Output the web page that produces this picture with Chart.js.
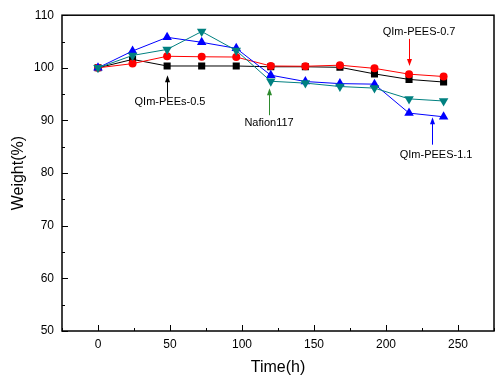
<!DOCTYPE html>
<html>
<head>
<meta charset="utf-8">
<script src="https://cdn.jsdelivr.net/npm/chart.js@4.4.1/dist/chart.umd.min.js"></script>
<style>
  html, body { margin: 0; padding: 0; background: #fff; }
  #wrap { width: 500px; height: 379px; }
</style>
</head>
<body>
<div id="wrap"><canvas id="c" width="500" height="379"></canvas></div>
<script>
// ---- data ----
const timeH = [0, 24, 48, 72, 96, 120, 144, 168, 192, 216, 240];
const qimPees05 = [100.0, 101.6, 100.35, 100.35, 100.35, 100.2, 100.2, 100.1, 98.85, 97.8, 97.3];
const qimPees07 = [100.0, 100.8, 102.2, 102.1, 102.05, 100.35, 100.3, 100.5, 99.9, 98.8, 98.35];
const qimPees11 = [100.0, 103.2, 105.8, 104.85, 103.7, 98.6, 97.4, 97.0, 96.9, 91.4, 90.7];
const nafion117 = [100.0, 102.35, 103.5, 106.9, 103.3, 97.45, 97.1, 96.45, 96.15, 94.1, 93.7];
const xTickValues = [-25, 0, 25, 50, 75, 100, 125, 150, 175, 200, 225, 250, 275];
const xTickLabels = ['', '0', '', '50', '', '100', '', '150', '', '200', '', '250', ''];
const yTickValues = [50, 55, 60, 65, 70, 75, 80, 85, 90, 95, 100, 105, 110];
const yTickLabels = ['50', '', '60', '', '70', '', '80', '', '90', '', '100', '', '110'];
const annotationTexts = ['QIm-PEEs-0.5', 'Nafion117', 'QIm-PEES-0.7', 'QIm-PEES-1.1'];
const annotationTextX = [50, 118.8, 223, 234.8];
const annotationTextY = [93.45, 89.5, 106.75, 83.4];
const arrowX = [48, 119, 216, 232];
const arrowFromY = [94.4, 91.0, 105.5, 85.4];
const arrowToY = [98.6, 96.1, 100.35, 90.6];
const arrowColors = ['#000000', '#2e8b2e', '#ff0000', '#0000ff'];

const pts = arr => arr.map((v, i) => ({ x: timeH[i], y: v }));
const FONT = "'Liberation Sans', Arial, sans-serif";

const framePlugin = {
  id: 'frame',
  afterDraw(chart) {
    const { ctx, chartArea: a, scales } = chart;
    ctx.save();
    ctx.strokeStyle = '#000';
    ctx.lineWidth = 1;
    xTickValues.forEach((v, i) => {
      const px = Math.round(scales.x.getPixelForValue(v)) + 0.5;
      const len = xTickLabels[i] !== '' ? 6 : 3;
      ctx.beginPath(); ctx.moveTo(px, a.bottom); ctx.lineTo(px, a.bottom - len); ctx.stroke();
    });
    yTickValues.forEach((v, i) => {
      const py = Math.round(scales.y.getPixelForValue(v)) + 0.5;
      const len = yTickLabels[i] !== '' ? 6 : 3;
      ctx.beginPath(); ctx.moveTo(a.left, py); ctx.lineTo(a.left + len, py); ctx.stroke();
    });
    ctx.lineWidth = 1.5;
    ctx.strokeRect(a.left, a.top, a.right - a.left, a.bottom - a.top);
    ctx.font = '11px ' + FONT;
    ctx.textAlign = 'center';
    ctx.textBaseline = 'middle';
    annotationTexts.forEach((t, i) => {
      ctx.fillStyle = '#000';
      ctx.fillText(t, scales.x.getPixelForValue(annotationTextX[i]), scales.y.getPixelForValue(annotationTextY[i]));
      const ax = Math.round(scales.x.getPixelForValue(arrowX[i])) + 0.5;
      const y0 = scales.y.getPixelForValue(arrowFromY[i]);
      const y1 = scales.y.getPixelForValue(arrowToY[i]);
      const dir = y1 < y0 ? -1 : 1;
      ctx.strokeStyle = arrowColors[i];
      ctx.fillStyle = arrowColors[i];
      ctx.lineWidth = 1;
      ctx.beginPath(); ctx.moveTo(ax, y0); ctx.lineTo(ax, y1 - dir * 6); ctx.stroke();
      ctx.beginPath();
      ctx.moveTo(ax, y1);
      ctx.lineTo(ax - 2.5, y1 - dir * 7);
      ctx.lineTo(ax + 2.5, y1 - dir * 7);
      ctx.closePath(); ctx.fill();
    });
    ctx.restore();
  }
};

new Chart(document.getElementById('c'), {
  type: 'line',
  data: {
    datasets: [
      { label: 'Nafion117', data: pts(nafion117), borderColor: '#008080', backgroundColor: '#008080',
        pointStyle: 'triangle', rotation: 180, pointRadius: 5.5, borderWidth: 1, pointBorderWidth: 0 },
      { label: 'QIm-PEES-1.1', data: pts(qimPees11), borderColor: '#0000ff', backgroundColor: '#0000ff',
        pointStyle: 'triangle', pointRadius: 5.5, borderWidth: 1, pointBorderWidth: 0 },
      { label: 'QIm-PEES-0.7', data: pts(qimPees07), borderColor: '#ff0000', backgroundColor: '#ff0000',
        pointStyle: 'circle', pointRadius: 4, borderWidth: 1, pointBorderWidth: 0 },
      { label: 'QIm-PEEs-0.5', data: pts(qimPees05), borderColor: '#000000', backgroundColor: '#000000',
        pointStyle: 'rect', pointRadius: 5, borderWidth: 1, pointBorderWidth: 0 }
    ]
  },
  options: {
    responsive: false,
    animation: false,
    devicePixelRatio: 1,
    layout: { padding: { left: 0, right: 6, top: 8.8, bottom: 0 } },
    plugins: { legend: { display: false }, tooltip: { enabled: false } },
    elements: { line: { tension: 0 } },
    scales: {
      x: {
        type: 'linear', min: -25, max: 275,
        afterBuildTicks: s => { s.ticks = xTickValues.map(v => ({ value: v })); },
        afterFit: s => { s.height = 48; },
        grid: { display: false, drawTicks: false },
        border: { display: false },
        ticks: {
          autoSkip: false, maxRotation: 0, padding: 6, color: '#000',
          font: { family: FONT, size: 12 },
          callback: (v, i) => xTickLabels[i]
        },
        title: { display: true, text: 'Time(h)', color: '#000', font: { family: FONT, size: 16 }, padding: { top: 2, bottom: 2 } }
      },
      y: {
        type: 'linear', min: 50, max: 110,
        afterBuildTicks: s => { s.ticks = yTickValues.map(v => ({ value: v })); },
        afterFit: s => { s.width = 62; },
        grid: { display: false, drawTicks: false },
        border: { display: false },
        ticks: {
          autoSkip: false, padding: 8, color: '#000',
          font: { family: FONT, size: 12 },
          callback: (v, i) => yTickLabels[i]
        },
        title: { display: true, text: 'Weight(%)', color: '#000', font: { family: FONT, size: 16 }, padding: { top: 9, bottom: 0 } }
      }
    }
  },
  plugins: [framePlugin]
});
</script>
</body>
</html>
